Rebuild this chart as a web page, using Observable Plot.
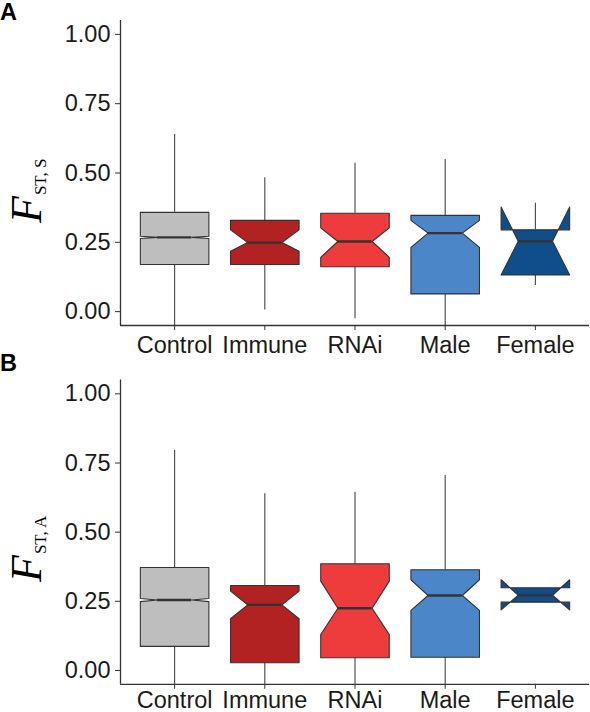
<!DOCTYPE html>
<html><head><meta charset="utf-8">
<script src="https://cdn.jsdelivr.net/npm/d3@7"></script>
<script src="https://cdn.jsdelivr.net/npm/@observablehq/plot@0.6"></script>
<style>
body{margin:0;background:#fff;}
#root{position:relative;width:590px;height:712px;background:#fff;}
#root svg{display:block;}
</style></head>
<body><div id="root"></div>
<script>
const categories = ["Control","Immune","RNAi","Male","Female"];
const fillColors = ["#bebebe","#b22222","#ee3b3b","#4a86c8","#104e8b"];
const yTicks = [0, 0.25, 0.5, 0.75, 1];

// Panel A: F_ST,S
const aWhiskerLow  = [-0.05, 0.006, -0.026, -0.05, 0.094];
const aQ1          = [0.170, 0.170, 0.162, 0.064, 0.132];
const aNotchLow    = [0.264, 0.218, 0.196, 0.232, 0.132];
const aMedian      = [0.268, 0.249, 0.253, 0.283, 0.254];
const aNotchHigh   = [0.272, 0.295, 0.302, 0.329, 0.377];
const aQ3          = [0.358, 0.329, 0.355, 0.347, 0.295];
const aWhiskerHigh = [0.639, 0.483, 0.535, 0.549, 0.391];

// Panel B: F_ST,A
const bWhiskerLow  = [-0.05, -0.05, -0.05, -0.05, 0.247];
const bQ1          = [0.087, 0.028, 0.046, 0.048, 0.247];
const bNotchLow    = [0.249, 0.187, 0.130, 0.217, 0.219];
const bMedian      = [0.255, 0.237, 0.225, 0.271, 0.272];
const bNotchHigh   = [0.260, 0.287, 0.323, 0.328, 0.328];
const bQ3          = [0.372, 0.307, 0.386, 0.364, 0.299];
const bWhiskerHigh = [0.795, 0.639, 0.644, 0.705, 0.299];

const halfW = 0.38;           // half box width in category units
const indent = halfW * 0.5;   // notch indent (notchwidth 0.5)
const sans = "'Liberation Sans', Arial, Helvetica, sans-serif";
const serif = "'Liberation Serif', 'Times New Roman', serif";

function panel(s, cfg) {
  const rows = categories.map((c, i) => ({
    cat: c, pos: i + 1, lo: s.lo[i], q1: s.q1[i], nl: s.nl[i], med: s.med[i],
    nh: s.nh[i], q3: s.q3[i], hi: s.hi[i]
  }));
  const poly = rows.flatMap(r => [
    [r.pos - halfW, r.q3], [r.pos - halfW, r.nh], [r.pos - halfW + indent, r.med],
    [r.pos - halfW, r.nl], [r.pos - halfW, r.q1],
    [r.pos + halfW, r.q1], [r.pos + halfW, r.nl], [r.pos + halfW - indent, r.med],
    [r.pos + halfW, r.nh], [r.pos + halfW, r.q3]
  ].map(([x, y]) => ({cat: r.cat, x, y})));

  const svg = Plot.plot({
    width: 590, height: cfg.height,
    marginLeft: 120, marginRight: 1, marginTop: cfg.mt, marginBottom: cfg.mb,
    x: {domain: [0.4, 5.6], axis: null},
    y: {domain: [-0.05, 1.05], axis: null},
    color: {domain: categories, range: fillColors},
    style: {fontFamily: sans, fontSize: "23.5px", color: "#1a1a1a", background: "#fff", overflow: "visible"},
    marks: [
      Plot.ruleX(rows, {x: "pos", y1: "q3", y2: "hi", stroke: "#444", strokeWidth: 1.1}),
      Plot.ruleX(rows, {x: "pos", y1: "lo", y2: "q1", stroke: "#444", strokeWidth: 1.1}),
      Plot.line(poly, {x: "x", y: "y", z: "cat", fill: "cat", stroke: "#333", strokeWidth: 1.1, curve: "linear-closed"}),
      Plot.ruleY(rows, {y: "med", x1: d => d.pos - halfW + indent, x2: d => d.pos + halfW - indent, stroke: "#333", strokeWidth: 2.4}),
      Plot.axisY({ticks: yTicks, tickFormat: d => d.toFixed(2), tickSize: 5, tickPadding: 5, fontSize: 23.5, stroke: "#333", label: null}),
      Plot.axisX({ticks: [1, 2, 3, 4, 5], tickFormat: i => categories[i - 1], tickSize: 5, tickPadding: cfg.xpad, fontSize: 23.5, stroke: "#333", label: null}),
      Plot.ruleX([0.4], {stroke: "#333", strokeWidth: 1.3}),
      Plot.ruleY([-0.05], {stroke: "#333", strokeWidth: 1.3})
    ]
  });

  const sel = d3.select(svg);
  sel.append("text").attr("x", 0).attr("y", cfg.letterY).attr("text-anchor", "start")
    .attr("font-family", sans).attr("font-weight", "bold").attr("font-size", 23.5)
    .attr("fill", "#000").text(cfg.letter);
  const t = sel.append("text")
    .attr("transform", `translate(41,${cfg.labelY}) rotate(-90)`)
    .attr("text-anchor", "start")
    .attr("font-family", serif).attr("fill", "#000");
  t.append("tspan").attr("font-style", "italic").attr("font-size", 44).text("F");
  t.append("tspan").attr("font-size", 17).attr("dy", 5).attr("dx", 1).text(cfg.sub);
  return svg;
}

const root = document.getElementById("root");
root.appendChild(panel(
  {lo: aWhiskerLow, q1: aQ1, nl: aNotchLow, med: aMedian, nh: aNotchHigh, q3: aQ3, hi: aWhiskerHigh},
  {height: 356, mt: 20, mb: 31, xpad: 6, letter: "A", letterY: 20, sub: "ST, S", labelY: 223}
));
root.appendChild(panel(
  {lo: bWhiskerLow, q1: bQ1, nl: bNotchLow, med: bMedian, nh: bNotchHigh, q3: bQ3, hi: bWhiskerHigh},
  {height: 356, mt: 23.5, mb: 28.2, xpad: 2, letter: "B", letterY: 15, sub: "ST, A", labelY: 226}
));
</script>
</body></html>
